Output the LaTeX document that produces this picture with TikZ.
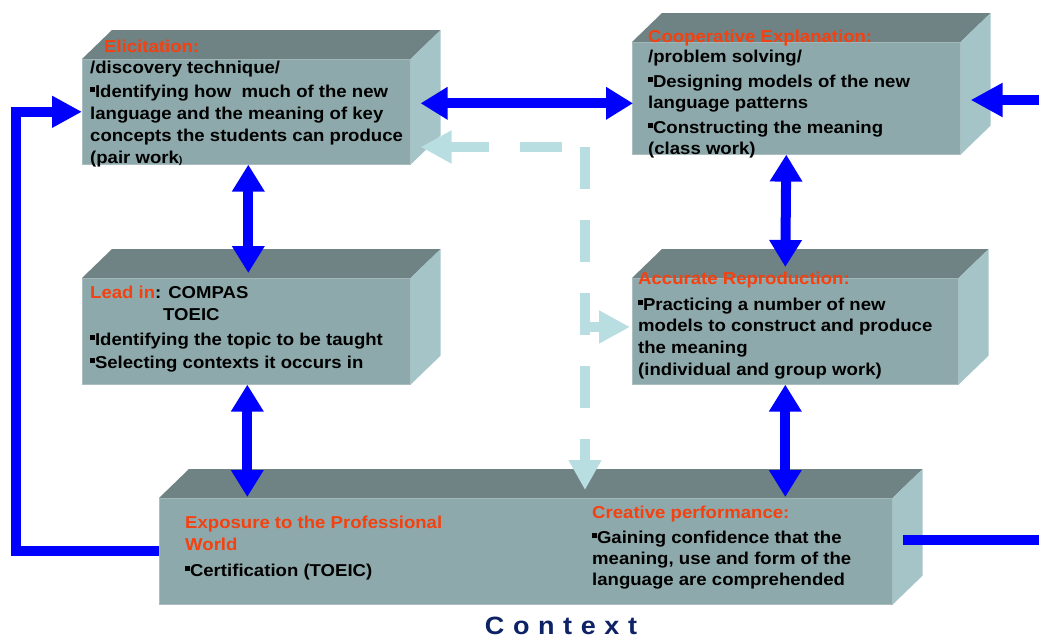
\documentclass[tikz,border=0pt]{standalone}
\usepackage{fontspec}
\setmainfont[FakeStretch=1.08]{Liberation Sans}
\usetikzlibrary{arrows.meta,calc}

\definecolor{topface}{HTML}{6F8284}
\definecolor{frontface}{HTML}{8EA9AB}
\definecolor{sideface}{HTML}{A5C4C7}
\definecolor{headred}{HTML}{F5400F}
\definecolor{flowblue}{HTML}{0000FF}
\definecolor{feedback}{HTML}{B9DEE2}
\definecolor{navy}{HTML}{0E2266}

% small square bullet
\newcommand\sqb{\rule[5pt]{4.8pt}{4.8pt}}
% body text size
\newcommand\bodyfont[1]{\bfseries\fontsize{17.2}{#1}\selectfont}

\tikzset{
  front/.style={fill=frontface, draw=frontface!75!white, line width=0.6pt,
    anchor=north west, inner sep=0pt},
  topf/.style={fill=topface},
  sidef/.style={fill=sideface},
  title/.style={anchor=base west, inner sep=0pt, text=headred,
    font=\bodyfont{21}},
  % multi-line text is placed by the baseline of its last line
  body/.style={anchor=base west, inner sep=0pt, align=left},
  twoway/.style={draw=flowblue, line width=10pt,
    {Triangle[length=27pt,width=31pt]}-{Triangle[length=27pt,width=31pt]}},
  oneway/.style={draw=flowblue, line width=10pt, line join=miter},
  fbdash/.style={draw=feedback, line width=10pt, dash pattern=on 42pt off 31pt},
  fbsolid/.style={draw=feedback, line width=10pt},
}

% 3-D slab: front face node plus top and side faces
\newcommand\slab[5]{%
  \node[front, minimum width=#4pt, minimum height=#5pt] (#1) at (#2,#3) {};
  \fill[topf] (#1.north west) -- ++(30,-29) -- ($(#1.north east)+(30,-29)$)
    -- (#1.north east) -- cycle;
  \fill[sidef] (#1.north east) -- ++(30,-29) -- ($(#1.south east)+(30,-29)$)
    -- (#1.south east) -- cycle;
}

\begin{document}
\begin{tikzpicture}[x=1pt, y=-1pt]
\useasboundingbox (0,0) rectangle (1039,637);

% ---- slabs ----
\slab{b1}{82}{59}{328}{105}
\slab{b2}{632}{42}{328}{112}
\slab{b3}{82}{278}{328}{106}
\slab{b4}{632}{278}{326}{106}
\slab{b5}{159}{498}{733}{106}

% ---- Elicitation ----
\node[title] (t1) at (104,52) {Elicitation:};
\node[body, font=\bodyfont{22}] (x1) at (90,163) {/discovery technique/\\[2pt]
\sqb Identifying how\ \ much of the new\\
language and the meaning of key\\
concepts the students can produce\\
(pair work{\fontsize{10}{10}\selectfont)}};

% ---- Cooperative Explanation ----
\node[title] (t2) at (648,42) {Cooperative Explanation:};
\node[body, font=\bodyfont{21}] (x2) at (648,154) {/problem solving/\\[4pt]
\sqb Designing models of the new\\
language patterns\\[4pt]
\sqb Constructing the meaning\\
(class work)};

% ---- Lead in ----
\node[body, font=\bodyfont{22}] (x3) at (90,368) {\textcolor{headred}{Lead in}: COMPAS\\
\hspace*{73pt}TOEIC\\[3pt]
\sqb Identifying the topic to be taught\\[1pt]
\sqb Selecting contexts it occurs in};

% ---- Accurate Reproduction ----
\node[title] (t4) at (638,284) {Accurate Reproduction:};
\node[body, font=\bodyfont{21.6}] (x4) at (638,375) {\sqb Practicing a number of new\\
models to construct and produce\\
the meaning\\
(individual and group work)};

% ---- Exposure / Creative performance ----
\node[body, font=\bodyfont{22}] (x5) at (185,576) {\textcolor{headred}{Exposure to the Professional}\\
\textcolor{headred}{World}\\[4pt]
\sqb Certification (TOEIC)};
\node[title] (t6) at (592,518) {Creative performance:};
\node[body, font=\bodyfont{21}] (x6) at (592,585) {\sqb Gaining confidence that the\\
meaning, use and form of the\\
language are comprehended};

% ---- caption ----
\node[anchor=base, inner sep=0pt, text=navy, font=\bfseries\fontsize{25}{25}\selectfont]
  (ctx) at (561,634) {C\kern1.1pt\ o\kern1.1pt\ n\kern1.1pt\ t\kern1.1pt\ e\kern1.1pt\ x\kern1.1pt\ t};

% ---- feedback (dashed) ----
\coordinate (fork) at (585,147);
\coordinate (branch) at (585,327);
\draw[fbdash, -{Triangle[length=31pt,width=31pt]}]
  ($(fork)+(-23,0)$) -- ($(fork -| b1.east)+(10,0)$);
\draw[fbdash, -{Triangle[length=30pt,width=31pt]}]
  (fork) -- ($(fork |- b5.north)+(0,-8)$);
\draw[fbsolid, -{Triangle[length=31pt,width=31pt]}]
  (branch) -- ($(branch -| b4.west)+(-2,0)$);

% ---- two-way links ----
\coordinate (h1) at ($(b1.east)+(10,-8.5)$);
\draw[twoway] (h1) -- ($(h1 -| b2.west)+(1,0)$);
\draw[twoway] ($(b1.south)+(2,0)$) -- ($(b3.north)+(2,-5)$);
\coordinate (v3) at ($(b3.south)+(1,0)$);
\draw[twoway] (v3) -- ($(v3 |- b5.north)+(0,-1)$);
\draw[twoway] ($(b2.south)+(-10,0)$) -- ($(b4.north)+(-10,-11)$);
\coordinate (v4) at ($(b4.south)+(-10,0)$);
\draw[twoway] (v4) -- ($(v4 |- b5.north)+(0,-1)$);

% ---- outer loop and side links ----
\draw[oneway, -{Triangle[length=30pt,width=30pt]}]
  (b5.west) -- ++(-143,0) |- (b1.west);
\coordinate (rin) at (1050,100);
\draw[oneway, -{Triangle[length=32pt,width=32pt]}]
  (rin) -- ($(rin -| b2.east)+(10,0)$);
\draw[oneway] ($(b5.east)+(10,-11)$) -- ++(150,0);
\end{tikzpicture}
\end{document}
